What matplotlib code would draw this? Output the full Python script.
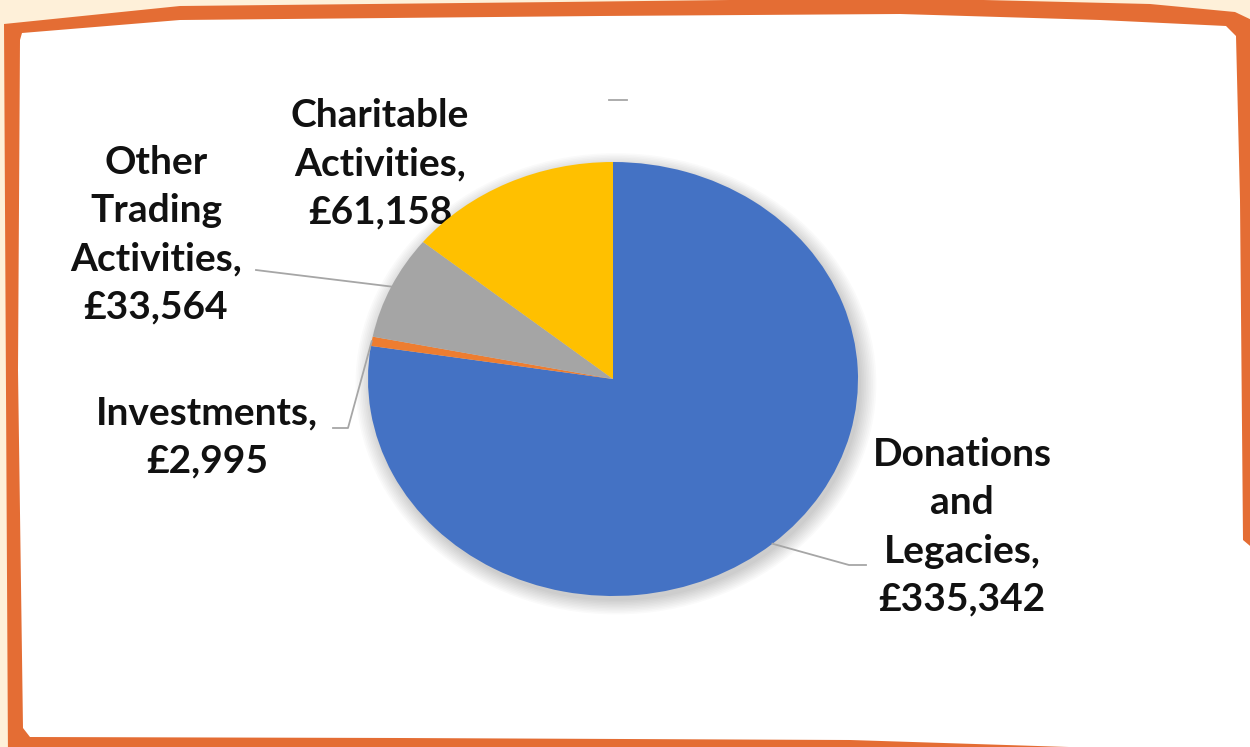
import numpy as np
import matplotlib.pyplot as plt
from matplotlib.patches import Polygon, Circle
from matplotlib.lines import Line2D

labels = ['Donations\nand\nLegacies,', 'Investments,', 'Other\nTrading\nActivities,', 'Charitable\nActivities,']
values = [335342, 2995, 33564, 61158]
colors = ['#4472C4', '#ED7D31', '#A5A5A5', '#FFC000']

W, H = 1250, 747
cx, cy, rx, ry = 613, 379, 245, 217   # pie centre / radii in pixels

fig = plt.figure(figsize=(W / 100, H / 100), dpi=100)
fig.patch.set_facecolor('#FEF0D9')

# frame layer, pixel coords
bg = fig.add_axes([0, 0, 1, 1])
bg.set_xlim(0, W)
bg.set_ylim(H, 0)
bg.axis('off')
outer = [(4, 24), (180, 6), (560, 2), (900, -2), (1150, 4), (1235, 12), (1256, 22),
         (1256, 760), (8, 760)]
inner = [(22, 33), (180, 20), (600, 16), (900, 14), (1100, 20), (1226, 26), (1236, 36),
         (1240, 200), (1243, 540), (1262, 556), (1262, 752), (1100, 748), (850, 740),
         (400, 738), (30, 737), (23, 728), (18, 370), (20, 40)]
bg.add_patch(Polygon(outer, closed=True, fc='#E46D34', ec='none'))
bg.add_patch(Polygon(inner, closed=True, fc='white', ec='none'))

# pie axes, stretched horizontally like the picture
ax = fig.add_axes([(cx - 1.25 * rx) / W, (H - cy - 1.25 * ry) / H, 2.5 * rx / W, 2.5 * ry / H])
ax.axis('off')

# soft shadow
for i in range(10):
    ax.add_patch(Circle((0.012, -0.022), 1.0 + 0.007 * i, fc='black', ec='none',
                        alpha=0.018, zorder=0))

wedges, _ = ax.pie(values, colors=colors, startangle=90, counterclock=False,
                   wedgeprops=dict(linewidth=0))
for w in wedges:
    w.set_zorder(2)
ax.set_aspect('auto')
ax.set_xlim(-1.25, 1.25)
ax.set_ylim(-1.25, 1.25)


def to_data(px, py):
    return (px - cx) / rx, (cy - py) / ry


def mid(w):
    a = np.deg2rad((w.theta1 + w.theta2) / 2)
    return np.cos(a), np.sin(a)


# label text (pixel positions of text centres) and leader elbows
label_pos = [(962, 527), (207, 437), (156, 235), (380, 164)]
leaders = [[(849, 565), (866, 565)],
           [(348, 428), (333, 428)],
           [(272, 272), (256, 270)],
           None]

font = dict(family='Lato', weight='bold', size=28, color='#111111')
for w, lab, v, (tx, ty), lead in zip(wedges, labels, values, label_pos, leaders):
    bg.text(tx, ty, f'{lab}\n£{v:,}', ha='center', va='center', linespacing=1.45, **font)
    if lead:
        pts = [mid(w)] + [to_data(*p) for p in lead]
        xs, ys = zip(*pts)
        ax.add_line(Line2D(xs, ys, color='#A6A6A6', lw=1.3, clip_on=False, zorder=3))

# stray leader stub above the pie
bg.plot([609, 627], [100, 100], color='#A6A6A6', lw=1.3)

fig.savefig('out.png', dpi=100, facecolor=fig.get_facecolor())
